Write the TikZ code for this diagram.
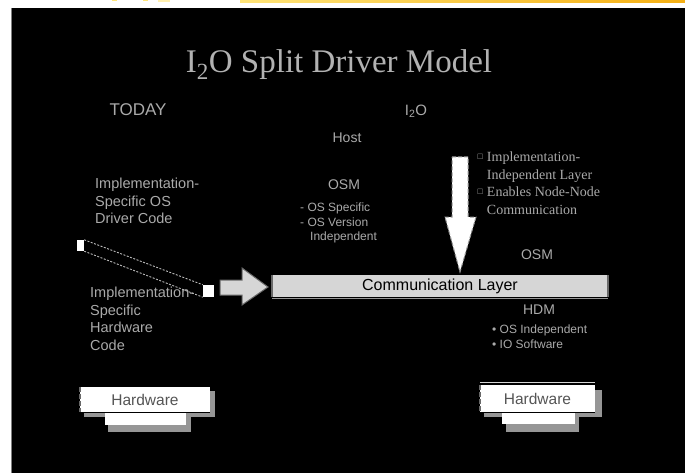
\documentclass[tikz,border=0pt]{standalone}
\usepackage{fontspec}
\setmainfont{Liberation Serif}
\setsansfont{Liberation Sans}
\usepackage{amssymb}
\usetikzlibrary{positioning}

\definecolor{txtgray}{RGB}{170,170,170}
\definecolor{ttlgray}{RGB}{178,178,178}
\definecolor{bargray}{RGB}{214,214,214}
\definecolor{rimgray}{RGB}{105,105,105}
\definecolor{shdgray}{RGB}{150,150,150}
\definecolor{hwtext}{RGB}{85,85,85}
\definecolor{strokeA}{RGB}{255,228,120}
\definecolor{strokeB}{RGB}{245,176,20}

\newcommand{\sqbul}{\raisebox{0.3ex}{$\scriptscriptstyle\square$}}

\tikzset{
  lbl/.style={text=txtgray, font=\sffamily\fontsize{14.5}{17.5}\selectfont, align=left, inner sep=0pt},
  sublbl/.style={text=txtgray, font=\sffamily\fontsize{12}{14.5}\selectfont, align=left, inner sep=0pt},
  serlbl/.style={text=txtgray, font=\rmfamily\fontsize{14}{17.5}\selectfont, align=left, inner sep=0pt},
  sqmark/.style={fill=white, inner sep=0pt},
  leader/.style={draw=txtgray!80, dash pattern=on 2pt off 1.5pt, line width=0.9pt},
  hwbox/.style={fill=white, inner sep=0pt, text=hwtext, font=\sffamily\fontsize{15.5}{18}\selectfont},
}

\begin{document}
\begin{tikzpicture}[x=1pt, y=-1pt]
  \useasboundingbox (0,0) rectangle (685,473);
  % slide background
  \fill[white] (0,0) rectangle (685,473);
  \fill[black] (11,8) rectangle (685,473);
  \draw[gray, line width=0.8pt] (11,8) -- (11,473);
  \shade[left color=strokeA, right color=strokeB] (240,0) rectangle (685,3);
  \fill[strokeA] (112,0) rectangle (117,1.5);
  \fill[strokeA] (143,0) rectangle (148,1.5);
  \fill[strokeA!60] (158,0) rectangle (170,2);

  % titles
  \node[text=ttlgray, font=\rmfamily\fontsize{33}{38}\selectfont, anchor=base, inner sep=0pt] (title) at (339,73) {I\textsubscript{2}O Split Driver Model};
  \node[lbl, font=\sffamily\fontsize{17}{20}\selectfont] (today) at (138,110) {TODAY};
  \node[lbl, font=\sffamily\fontsize{15}{18}\selectfont] (ito) at (416,111) {I\textsubscript{2}O};

  % left column
  \node[lbl, anchor=north west] (drvtxt) at (95,178) {Implementation-\\Specific OS\\Driver Code};
  \node[lbl, anchor=north west] (hwtxt) at (90,287) {Implementation-\\Specific\\Hardware\\Code};
  \node[sqmark, minimum width=7pt, minimum height=11pt] (sqa) at (80.5,245.5) {};
  \node[sqmark, minimum width=11pt, minimum height=12pt] (sqb) at (208.5,291) {};
  \draw[leader] (sqa.north east) -- (sqb.north west);
  \draw[leader] (sqa.south east) -- (sqb.south west);

  % host side
  \node[lbl, font=\sffamily\fontsize{14}{17}\selectfont] (host) at (347,138) {Host};
  \node[lbl, font=\sffamily\fontsize{14}{17}\selectfont] (osm) at (344,185) {OSM};
  \node[sublbl, anchor=north west] (osmlist) at (300,203) {- OS Specific\\- OS Version\\\hspace*{10pt}Independent};
  \node[serlbl, anchor=north west] (layertxt) at (477,152) {\sqbul\ Implementation-\\\phantom{\sqbul\ }Independent Layer\\\sqbul\ Enables Node-Node\\\phantom{\sqbul\ }Communication};
  \node[lbl, font=\sffamily\fontsize{14}{17}\selectfont] (osmr) at (537,255) {OSM};

  % communication layer
  \node[fill=bargray, minimum width=336pt, minimum height=22pt, inner sep=0pt,
        font=\sffamily\fontsize{16}{19}\selectfont] (commbar) at (440,286) {Communication Layer};
  \draw[rimgray, line width=2pt] (commbar.north west) -- (commbar.south west);
  \draw[rimgray, line width=2pt] (commbar.north east) -- (commbar.south east);
  \draw[shdgray, line width=1pt] ([yshift=-1.5pt]commbar.south west) -- ([yshift=-1.5pt]commbar.south east);

  % block arrows
  \filldraw[fill=bargray, draw=rimgray, line width=1pt]
    (220,280) -- (242,280) -- (242,268) -- (268,287) -- (242,305) -- (242,295) -- (220,295) -- cycle;
  \filldraw[fill=white, draw=shdgray, dash pattern=on 4pt off 2pt, line width=1pt]
    (452,157) -- (468,157) -- (468,217) -- (476,217) -- (460,272) -- (445,217) -- (452,217) -- cycle;

  % device side
  \node[lbl, font=\sffamily\fontsize{14}{17}\selectfont] (hdm) at (539,310) {HDM};
  \node[sublbl, anchor=north west] (hdmlist) at (492,325) {\textbullet\ OS Independent\\\textbullet\ IO Software};

  % hardware, left
  \fill[shdgray] (84,391) rectangle (215,417);
  \fill[shdgray] (108,417) rectangle (191,432);
  \fill[white] (105,410) rectangle (186,425);
  \node[hwbox, minimum width=130pt, minimum height=25pt] (hwl) at (145,399.5) {Hardware};
  \draw[black, line width=0.8pt] (hwl.south west) -- (hwl.south east);
  \draw[rimgray, dash pattern=on 5pt off 2pt, line width=1.5pt] (hwl.north west) -- (hwl.south west);

  % hardware, right
  \fill[shdgray] (484,390) rectangle (602,417);
  \fill[shdgray] (506,417) rectangle (579,432);
  \fill[white] (502,410) rectangle (575,424);
  \node[hwbox, minimum width=115pt, minimum height=27pt] (hwr) at (537.5,398.5) {Hardware};
  \draw[black, line width=0.8pt] (hwr.south west) -- (hwr.south east);
  \draw[rimgray, dash pattern=on 5pt off 2pt, line width=1.5pt] (hwr.north west) -- (hwr.south west);
  \draw[bargray, line width=1pt] ([yshift=2pt]hwr.north west) -- ([yshift=2pt]hwr.north east);
\end{tikzpicture}
\end{document}
